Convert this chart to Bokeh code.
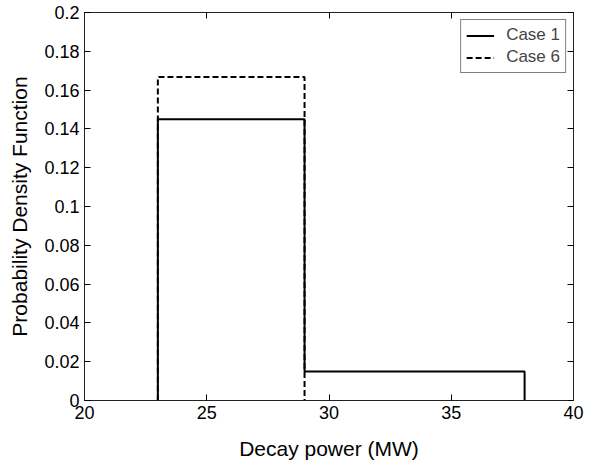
from bokeh.plotting import figure
from bokeh.models import LinearAxis, FixedTicker, CustomJSTickFormatter, Range1d, Legend, LegendItem
from bokeh.embed import file_html
from bokeh.resources import INLINE

# Data
case1_edges = [23, 29, 38]
case1_density = [0.145, 0.015]
case6_edges = [23, 29]
case6_density = [0.1667]

x_ticks = [20, 25, 30, 35, 40]
y_ticks = [0, 0.02, 0.04, 0.06, 0.08, 0.1, 0.12, 0.14, 0.16, 0.18, 0.2]


def step_outline(edges, dens):
    xs = [edges[0]]
    ys = [0]
    for i, d in enumerate(dens):
        xs += [edges[i], edges[i + 1]]
        ys += [d, d]
    xs.append(edges[-1])
    ys.append(0)
    return xs, ys

FONT = "Liberation Sans"

p = figure(width=594, height=462, output_backend="svg", toolbar_location=None,
           x_range=Range1d(20, 40), y_range=Range1d(0, 0.2),
           min_border_left=84, min_border_right=21, min_border_top=12, min_border_bottom=62)
p.xgrid.visible = False
p.ygrid.visible = False
p.outline_line_color = "#222222"
p.outline_line_width = 1
p.background_fill_color = "white"
p.border_fill_color = "white"

x6, y6 = step_outline(case6_edges, case6_density)
x1, y1 = step_outline(case1_edges, case1_density)
r6 = p.line(x6, y6, line_color="black", line_width=2, line_dash="6 3")
r1 = p.line(x1, y1, line_color="black", line_width=2)

fmt = CustomJSTickFormatter(code="""
var s = tick.toFixed(2);
s = s.replace(/0+$/, '').replace(/\\.$/, '');
return s;
""")
blank = CustomJSTickFormatter(code="return '';")

for ax in [p.xaxis[0], p.yaxis[0]]:
    ax.major_tick_in = 6
    ax.major_tick_out = 0
    ax.minor_tick_line_color = None
    ax.axis_line_color = "#222222"
    ax.major_label_text_font = FONT
    ax.major_label_text_font_size = "18px"
    ax.major_label_text_color = "black"
    ax.axis_label_text_font = FONT
    ax.axis_label_text_font_size = "21px"
    ax.axis_label_text_font_style = "normal"
    ax.axis_label_text_color = "black"

p.xaxis[0].ticker = FixedTicker(ticks=x_ticks)
p.yaxis[0].ticker = FixedTicker(ticks=y_ticks)
p.yaxis[0].formatter = fmt
p.xaxis[0].axis_label = "Decay power (MW)"
p.yaxis[0].axis_label = "Probability Density Function"
p.xaxis[0].major_label_standoff = 5
p.yaxis[0].major_label_standoff = 5
p.xaxis[0].axis_label_standoff = 15
p.yaxis[0].axis_label_standoff = 10

top = LinearAxis(ticker=FixedTicker(ticks=x_ticks), formatter=blank,
                 major_tick_in=6, major_tick_out=0, minor_tick_line_color=None,
                 axis_line_color="#222222", major_label_standoff=0)
right = LinearAxis(ticker=FixedTicker(ticks=y_ticks), formatter=blank,
                   major_tick_in=6, major_tick_out=0, minor_tick_line_color=None,
                   axis_line_color="#222222", major_label_standoff=0)
p.add_layout(top, "above")
p.add_layout(right, "right")

legend = Legend(items=[LegendItem(label="Case 1", renderers=[r1]),
                       LegendItem(label="Case 6", renderers=[r6])],
                location="top_right")
legend.border_line_color = "black"
legend.border_line_width = 1
legend.label_text_font = FONT
legend.label_text_font_size = "17px"
legend.label_height = 19
legend.glyph_height = 19
legend.glyph_width = 28
legend.spacing = 2
legend.padding = 5
legend.margin = 7
legend.label_standoff = 12
legend.background_fill_alpha = 1
p.add_layout(legend)

open("out.html", "w").write(file_html(p, INLINE))
